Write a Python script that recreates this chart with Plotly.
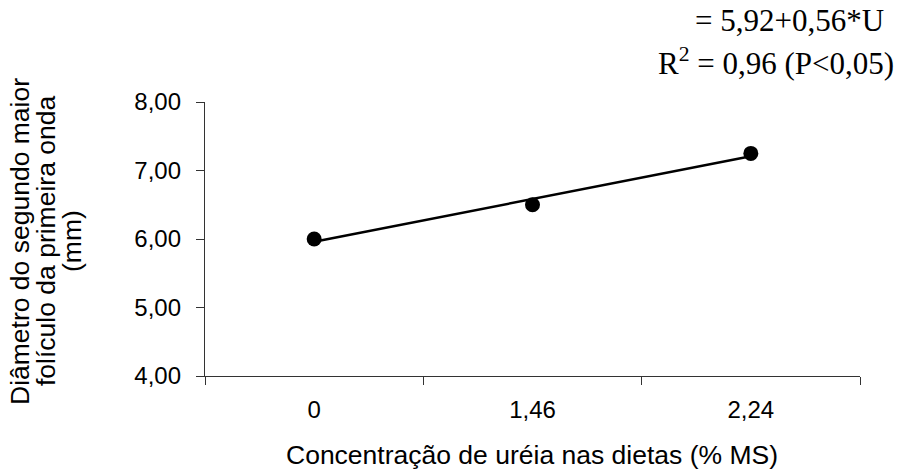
import numpy as np
import plotly.graph_objects as go

# Urea concentration in the diets (% DM) and mean follicle diameter (mm)
ureia = ["0", "1,46", "2,24"]
diametro = [6.00, 6.50, 7.25]
y_ticks = [4.0, 5.0, 6.0, 7.0, 8.0]

# Linear trend fitted over the category positions
pos = np.arange(len(ureia))
coef = np.polyfit(pos, diametro, 1)
trend = np.polyval(coef, pos)

W, H = 904, 470
L, R, T, B = 205, 44, 102, 94
PW, PH = W - L - R, H - T - B


def px(x):
    return (x - L) / PW


def py(y):
    return (H - B - y) / PH


fig = go.Figure()
fig.add_trace(go.Scatter(
    x=ureia, y=trend, mode="lines",
    line=dict(color="black", width=2.5), hoverinfo="skip",
))
fig.add_trace(go.Scatter(
    x=ureia, y=diametro, mode="markers",
    marker=dict(color="black", size=15),
))

sans = "Liberation Sans, Arial, sans-serif"
serif = "Liberation Serif, Times New Roman, serif"

# y-axis title, one annotation per line
ytitle_lines = ["Diâmetro do segundo maior", "folículo da primeira onda", "(mm)"]
ytitle_x = [20, 46, 72]

annotations = [
    dict(text="Concentração de uréia nas dietas (% MS)",
         xref="paper", yref="paper", x=px(532), y=py(455),
         xanchor="center", yanchor="middle", showarrow=False,
         font=dict(family=sans, size=26.5)),
    dict(text="= 5,92+0,56*U",
         xref="paper", yref="paper", x=px(886), y=py(21),
         xanchor="right", yanchor="middle", showarrow=False,
         font=dict(family=serif, size=31)),
    dict(text="R<sup>2</sup> = 0,96 (P<0,05)",
         xref="paper", yref="paper", x=px(896), y=py(61),
         xanchor="right", yanchor="middle", showarrow=False,
         font=dict(family=serif, size=31)),
]
for line, xc in zip(ytitle_lines, ytitle_x):
    annotations.append(dict(
        text=line, xref="paper", yref="paper", x=px(xc), y=py(241),
        xanchor="center", yanchor="middle", showarrow=False,
        textangle=-90, font=dict(family=sans, size=26.5),
    ))

fig.update_layout(
    width=W, height=H,
    margin=dict(l=L, r=R, t=T, b=B),
    paper_bgcolor="white", plot_bgcolor="white",
    showlegend=False,
    separators=",.",
    font=dict(family=sans, size=24, color="black"),
    xaxis=dict(
        type="category", range=[-0.5, 2.5], tickson="boundaries",
        showline=True, linecolor="#333", linewidth=1.3,
        ticks="outside", ticklen=8, tickcolor="#333", tickwidth=1.3,
        showgrid=False, zeroline=False, ticklabelstandoff=12,
        tickfont=dict(size=24),
    ),
    yaxis=dict(
        range=[4, 8], tickvals=y_ticks, tickformat=".2f",
        showline=True, linecolor="#333", linewidth=1.3,
        ticks="outside", ticklen=8, tickcolor="#333", tickwidth=1.3,
        showgrid=False, zeroline=False, ticklabelstandoff=10,
        tickfont=dict(size=24),
    ),
    annotations=annotations,
)

fig.write_html("out.html")
